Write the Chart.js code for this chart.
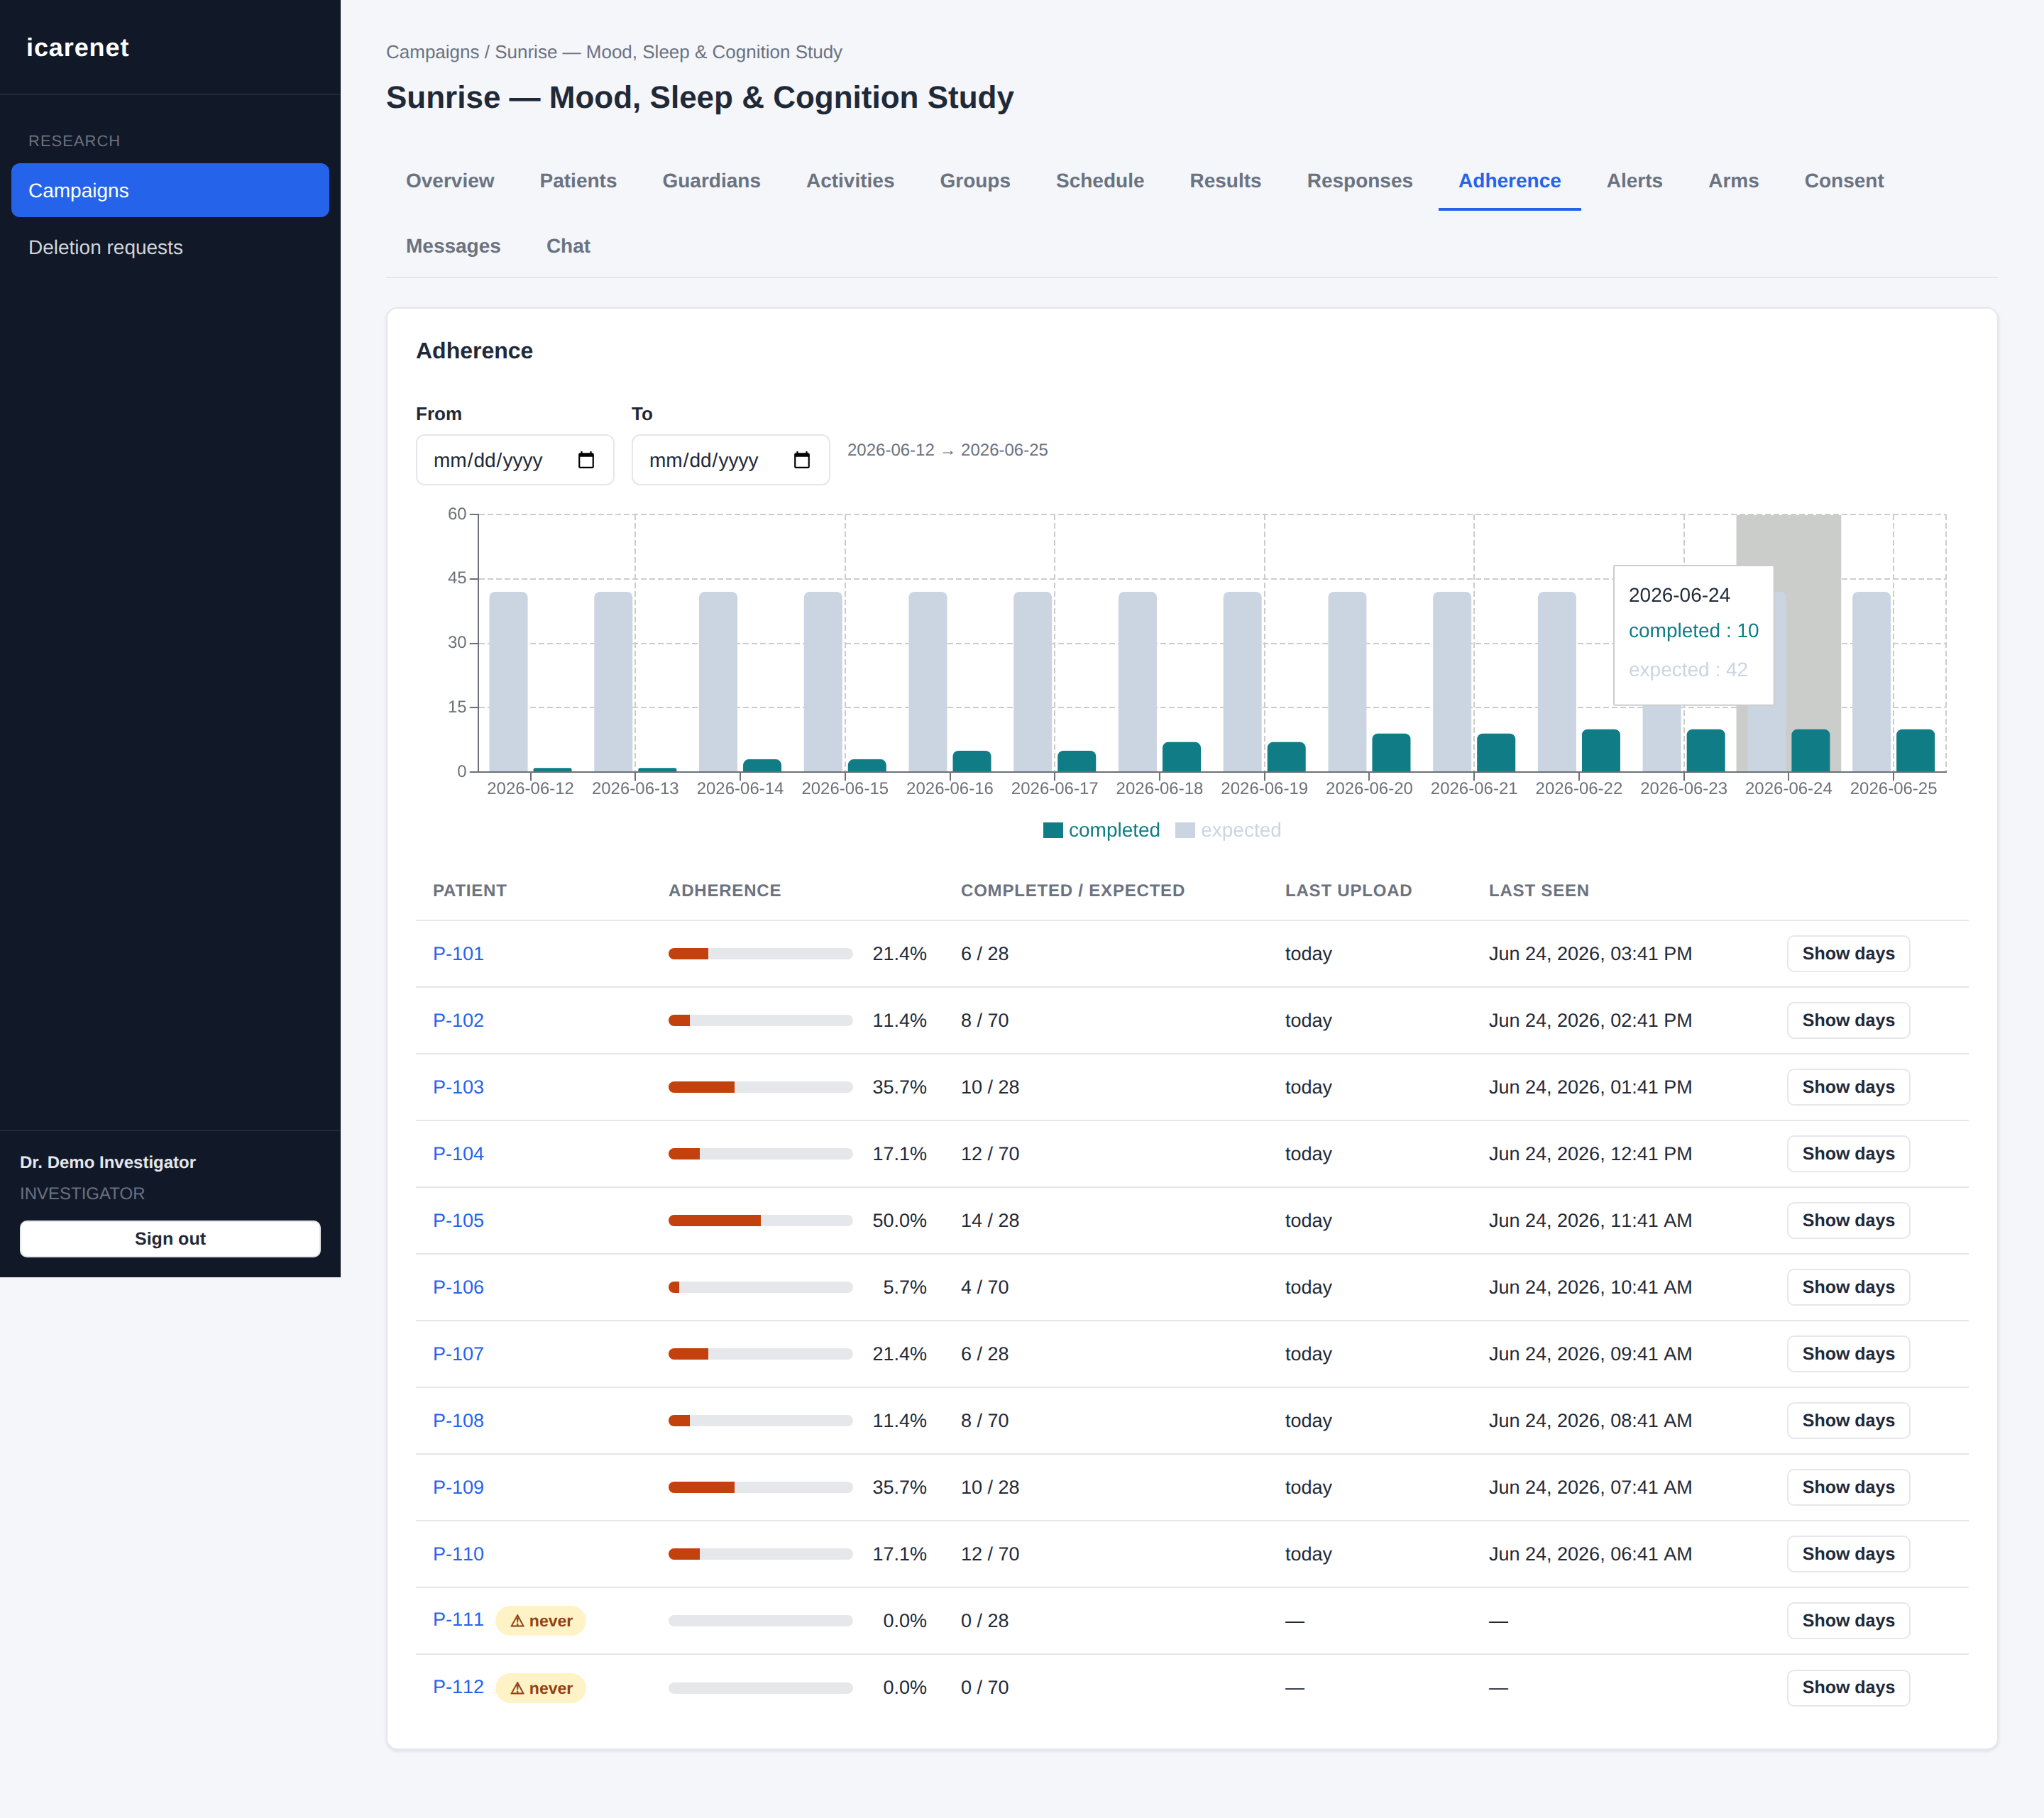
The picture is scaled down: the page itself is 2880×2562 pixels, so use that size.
<!DOCTYPE html>
<html>
<head>
<meta charset="utf-8">
<title>Adherence</title>
<script src="https://cdn.jsdelivr.net/npm/chart.js@4"></script>
<style>
* { box-sizing: border-box; }
html, body { margin: 0; padding: 0; }
body { width: 2880px; height: 2562px; overflow: hidden; position: relative; background: #f4f6fa;
  font-family: "Liberation Sans", Arial, sans-serif; color: #1f2937; text-rendering: geometricPrecision; }
input, button { text-rendering: geometricPrecision; }
.abs { position: absolute; white-space: nowrap; line-height: 1; }
#sidebar { position: absolute; left: 0; top: 0; width: 480px; height: 1800px; background: #111827; }
#navActive { position: absolute; left: 16px; top: 230px; width: 448px; height: 76px; background: #2563eb; border-radius: 12px; }
.sep { position: absolute; left: 0; width: 480px; height: 2px; background: #1f2937; }
#signout { position: absolute; left: 28px; top: 1720px; width: 424px; height: 52px; background: #fff; border: 2px solid #e5e7eb;
  border-radius: 10px; font: bold 25px "Liberation Sans", Arial, sans-serif; color: #1f2937; padding: 0; }
#tabs { position: absolute; left: 544px; top: 213px; width: 2272px; height: 179px; display: flex; flex-wrap: wrap; gap: 8px; align-content: flex-start;
  border-bottom: 2px solid #e5e7eb; }
.tab { height: 84px; line-height: 84px; padding: 0 28px; font-size: 28px; font-weight: bold; color: #6b7280; }
.tab.active { color: #2563eb; border-bottom: 4px solid #2563eb; }
#card { position: absolute; left: 544px; top: 433px; width: 2272px; height: 2033px; background: #fff; border: 2px solid #e5e7eb;
  border-radius: 16px; box-shadow: 0 2px 4px rgba(15,23,42,0.10); }
.dateInput { position: absolute; top: 612px; width: 280px; height: 72px; border: 2px solid #e5e7eb; border-radius: 12px; background: #fff;
  font: 28px "Liberation Sans", Arial, sans-serif; color: #1f2937; padding: 2px 22px 0; }
#chart { position: absolute; left: 586px; top: 690px; }
#legend { position: absolute; left: 1470px; top: 1159px; display: flex; align-items: center; height: 22px; font-size: 28px; line-height: 1; white-space: nowrap; }
#legend i { display: block; width: 28px; height: 22px; margin-right: 8px; }
#legend span { margin-right: 21px; }
#patients { position: absolute; left: 586px; top: 1211px; width: 2188px; border-collapse: collapse; table-layout: fixed; font-size: 27px; }
#patients th { height: 86px; text-align: left; padding: 4px 24px 0; font-size: 24px; font-weight: bold; letter-spacing: .8px; color: #6b7280; border-bottom: 2px solid #e5e7eb; white-space: nowrap; }
#patients td { height: 94px; padding: 0 24px; border-bottom: 2px solid #e5e7eb; white-space: nowrap; font-kerning: none; }
#patients tr:last-child td { border-bottom: 0; }
.pid { color: #2563eb; }
.badge { display: inline-block; margin-left: 16px; width: 128px; height: 42px; line-height: 42px; border-radius: 21px; background: #fef3c7; color: #92400e;
  font-size: 23px; font-weight: bold; text-align: center; vertical-align: middle; padding-left: 2px; }
.adh { display: flex; align-items: center; }
.track { width: 260px; height: 16px; border-radius: 8px; background: #e5e7eb; overflow: hidden; }
.fill { height: 100%; background: #c2410c; }
.pct { width: 104px; text-align: right; }
.show { width: 174px; height: 52px; background: #fff; border: 2px solid #e5e7eb; border-radius: 10px; font: bold 25px "Liberation Sans", Arial, sans-serif; color: #1f2937; padding: 0; }
</style>
</head>
<body>
<div id="sidebar">
  <div class="abs" style="left:37px;top:49px;font-size:36px;font-weight:bold;letter-spacing:.9px;color:#fff">icarenet</div>
  <div class="sep" style="top:132px"></div>
  <div class="abs" style="left:40px;top:188px;font-size:22px;letter-spacing:1px;color:#6b7280">RESEARCH</div>
  <div id="navActive"></div>
  <div class="abs" style="left:40px;top:255px;font-size:28px;color:#fff">Campaigns</div>
  <div class="abs" style="left:40px;top:335px;font-size:28px;color:#d1d5db">Deletion requests</div>
  <div class="sep" style="top:1592px"></div>
  <div class="abs" style="left:28px;top:1627px;font-size:24px;font-weight:bold;color:#e5e7eb">Dr. Demo Investigator</div>
  <div class="abs" style="left:28px;top:1671px;font-size:24px;color:#6b7280">INVESTIGATOR</div>
  <button id="signout">Sign out</button>
</div>
<div class="abs" style="left:544px;top:60px;font-size:26px;color:#6b7280">Campaigns / Sunrise — Mood, Sleep &amp; Cognition Study</div>
<div class="abs" style="left:544px;top:116px;font-size:44px;font-weight:bold;color:#1f2937">Sunrise — Mood, Sleep &amp; Cognition Study</div>
<div id="tabs"></div>
<div id="card"></div>
<div class="abs" style="left:586px;top:478px;font-size:32px;font-weight:bold;color:#1f2937">Adherence</div>
<div class="abs" style="left:586px;top:570px;font-size:26px;font-weight:bold;color:#1f2937">From</div>
<input class="dateInput" type="date" style="left:586px">
<div class="abs" style="left:890px;top:570px;font-size:26px;font-weight:bold;color:#1f2937">To</div>
<input class="dateInput" type="date" style="left:890px">
<div class="abs" style="left:1194px;top:623px;font-size:24px;color:#6b7280">2026-06-12 → 2026-06-25</div>
<canvas id="chart" width="2188" height="500"></canvas>
<div id="legend"></div>
<table id="patients"><thead><tr id="headRow"></tr></thead><tbody id="rows"></tbody></table>

<script>
const tabNames = ['Overview', 'Patients', 'Guardians', 'Activities', 'Groups', 'Schedule', 'Results', 'Responses', 'Adherence', 'Alerts', 'Arms', 'Consent', 'Messages', 'Chat'];
const activeTab = 'Adherence';

const days = ['2026-06-12', '2026-06-13', '2026-06-14', '2026-06-15', '2026-06-16', '2026-06-17', '2026-06-18', '2026-06-19', '2026-06-20', '2026-06-21', '2026-06-22', '2026-06-23', '2026-06-24', '2026-06-25'];
const completedByDay = [1, 1, 3, 3, 5, 5, 7, 7, 9, 9, 10, 10, 10, 10];
const expectedByDay = [42, 42, 42, 42, 42, 42, 42, 42, 42, 42, 42, 42, 42, 42];
const hoveredDay = 12;

const tableHeads = ['PATIENT', 'ADHERENCE', 'COMPLETED / EXPECTED', 'LAST UPLOAD', 'LAST SEEN', ''];
const columnWidths = [332, 412, 457, 287, 420, 280];
const patientIds = ['P-101', 'P-102', 'P-103', 'P-104', 'P-105', 'P-106', 'P-107', 'P-108', 'P-109', 'P-110', 'P-111', 'P-112'];
const adherencePct = [21.4, 11.4, 35.7, 17.1, 50.0, 5.7, 21.4, 11.4, 35.7, 17.1, 0.0, 0.0];
const completedCounts = [6, 8, 10, 12, 14, 4, 6, 8, 10, 12, 0, 0];
const expectedCounts = [28, 70, 28, 70, 28, 70, 28, 70, 28, 70, 28, 70];
const lastUploads = ['today', 'today', 'today', 'today', 'today', 'today', 'today', 'today', 'today', 'today', '—', '—'];
const lastSeen = ['Jun 24, 2026, 03:41 PM', 'Jun 24, 2026, 02:41 PM', 'Jun 24, 2026, 01:41 PM', 'Jun 24, 2026, 12:41 PM', 'Jun 24, 2026, 11:41 AM', 'Jun 24, 2026, 10:41 AM', 'Jun 24, 2026, 09:41 AM', 'Jun 24, 2026, 08:41 AM', 'Jun 24, 2026, 07:41 AM', 'Jun 24, 2026, 06:41 AM', '—', '—'];

const axisGrey = '#6e7079';
const splitGrey = '#cccccc';
const teal = '#0f7c86';
const slate = '#cbd5e1';

// tabs
document.getElementById('tabs').innerHTML = tabNames.map(name =>
  `<div class="tab${name === activeTab ? ' active' : ''}">${name}</div>`).join('');

// table
document.getElementById('headRow').innerHTML = tableHeads.map((head, i) =>
  `<th style="width:${columnWidths[i]}px">${head}</th>`).join('');
document.getElementById('rows').innerHTML = patientIds.map((id, i) => {
  const badge = completedCounts[i] === 0 ? '<span class="badge">⚠ never</span>' : '';
  return `<tr>
    <td><span class="pid">${id}</span>${badge}</td>
    <td><div class="adh"><div class="track"><div class="fill" style="width:${adherencePct[i]}%"></div></div><div class="pct">${adherencePct[i].toFixed(1)}%</div></div></td>
    <td>${completedCounts[i]} / ${expectedCounts[i]}</td>
    <td>${lastUploads[i]}</td>
    <td>${lastSeen[i]}</td>
    <td><button class="show">Show days</button></td>
  </tr>`;
}).join('');

// band behind the hovered day, plus the dashed right edge of the plot
const hoverBand = {
  id: 'hoverBand',
  beforeDatasetsDraw(chart) {
    const { ctx, chartArea, scales } = chart;
    const step = scales.x.getPixelForValue(1) - scales.x.getPixelForValue(0);
    const centre = scales.x.getPixelForValue(hoveredDay);
    ctx.save();
    ctx.strokeStyle = splitGrey;
    ctx.lineWidth = 2;
    ctx.setLineDash([8, 4]);
    ctx.beginPath();
    ctx.moveTo(chartArea.right, chartArea.top);
    ctx.lineTo(chartArea.right, chartArea.bottom);
    ctx.stroke();
    ctx.fillStyle = '#cbcdcb';
    ctx.fillRect(centre - step / 2, chartArea.top + 1, step, chartArea.bottom - chartArea.top - 1);
    ctx.restore();
  }
};

Chart.Tooltip.positioners.fixedBox = function () {
  return { x: 1690, y: 107 };
};

const chart = new Chart(document.getElementById('chart'), {
  type: 'bar',
  plugins: [hoverBand],
  data: {
    labels: days,
    datasets: [
      { label: 'expected', data: expectedByDay, backgroundColor: slate },
      { label: 'completed', data: completedByDay, backgroundColor: teal }
    ]
  },
  options: {
    responsive: false,
    animation: false,
    events: [],
    font: { family: '"Liberation Sans", Arial, sans-serif' },
    layout: { padding: { left: 41, right: 32, top: 35, bottom: 65 } },
    datasets: { bar: { categoryPercentage: 0.8396, barPercentage: 0.871, borderRadius: 8 } },
    scales: {
      x: {
        offset: true,
        grid: {
          offset: false,
          color: c => c.index % 2 === 1 ? splitGrey : 'transparent',
          lineWidth: 2,
          tickColor: axisGrey,
          tickLength: 12,
          tickWidth: 2,
          tickBorderDash: []
        },
        border: { color: axisGrey, width: 2, z: 1, dash: [8, 4] },
        ticks: { autoSkip: false, maxRotation: 0, minRotation: 0, color: axisGrey, padding: -2, font: { size: 24 } }
      },
      y: {
        min: 0,
        max: 60,
        grid: {
          color: splitGrey,
          lineWidth: 2,
          tickColor: axisGrey,
          tickLength: 12,
          tickWidth: 2,
          tickBorderDash: []
        },
        border: { color: axisGrey, width: 2, dash: [8, 4] },
        ticks: { stepSize: 15, color: axisGrey, padding: 4, font: { size: 24 } }
      }
    },
    plugins: {
      legend: { display: false },
      tooltip: {
        position: 'fixedBox',
        mode: 'index',
        intersect: false,
        xAlign: 'left',
        yAlign: 'top',
        caretSize: 0,
        caretPadding: 0,
        cornerRadius: 2,
        displayColors: false,
        backgroundColor: '#ffffff',
        borderColor: '#cccccc',
        borderWidth: 2,
        padding: { left: 21, right: 21, top: 26, bottom: 32 },
        titleColor: '#1f2937',
        titleFont: { size: 28, weight: 'normal' },
        titleMarginBottom: 17,
        bodyFont: { size: 28 },
        bodySpacing: 21,
        itemSort: (a, b) => b.datasetIndex - a.datasetIndex,
        callbacks: {
          label: item => `${item.dataset.label} : ${item.raw}`,
          labelTextColor: item => item.dataset.backgroundColor
        }
      }
    }
  }
});

// html legend, completed first like the source chart
document.getElementById('legend').innerHTML = [...chart.data.datasets].reverse().map(set =>
  `<i style="background:${set.backgroundColor}"></i><span style="color:${set.backgroundColor}">${set.label}</span>`).join('');

chart.ctx.textRendering = 'geometricPrecision';
chart.tooltip.setActiveElements(
  [{ datasetIndex: 1, index: hoveredDay }, { datasetIndex: 0, index: hoveredDay }],
  { x: 0, y: 0 }
);
chart.update();
</script>
</body>
</html>
